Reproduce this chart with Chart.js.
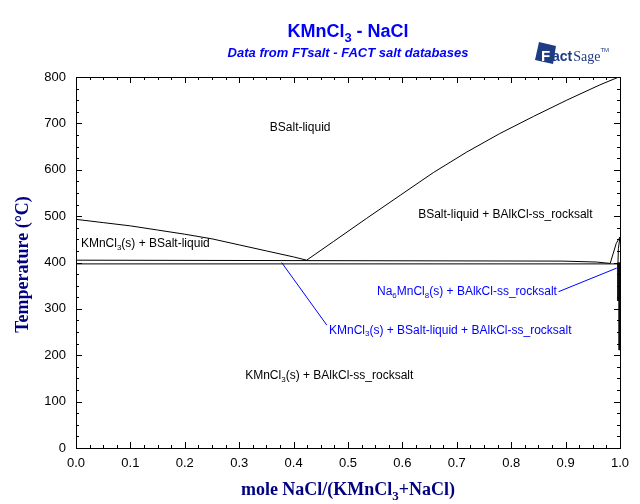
<!DOCTYPE html>
<html>
<head>
<meta charset="utf-8">
<script src="https://cdn.jsdelivr.net/npm/chart.js@4.4.1/dist/chart.umd.min.js"></script>
<style>
  html, body { margin: 0; padding: 0; background: #fff; }
</style>
</head>
<body>
<canvas id="myChart" width="640" height="504"></canvas>
<script>
// phase boundaries, x = mole NaCl/(KMnCl3+NaCl), T in °C
const liqLeftX = [0, 0.05, 0.1, 0.15, 0.2, 0.25, 0.3, 0.35, 0.4, 0.424]
const liqLeftT = [493, 486, 479, 470, 461, 451, 438, 425, 412, 405]

const liqRightX = [0.424, 0.473, 0.534, 0.596, 0.657, 0.718, 0.779, 0.841, 0.902, 0.963, 1.0]
const liqRightT = [405, 445, 495, 545, 594, 638, 678, 715, 750, 783, 801]

const eutecticX = [0, 0.895, 0.957, 0.982]
const eutecticT = [405, 403, 401, 398]

const lowerX = [0, 1]
const lowerT = [397, 397]

const solidusX = [0.982, 0.993, 1.0]
const solidusT = [398, 441, 455]

const solvusX = [1.0, 0.997, 0.9963]
const solvusT = [455, 430, 400]

const na6X = [0.9963, 0.9963]
const na6T = [400, 317]

const solvusLowX = [0.9985, 0.9985]
const solvusLowT = [400, 211]

// blue label pointers
const pointerAX = [0.378, 0.461]
const pointerAT = [400, 265]
const pointerBX = [0.887, 0.994]
const pointerBT = [337, 388]

// region labels ({n} = subscript)
const labelTexts = [
  'BSalt-liquid',
  'BSalt-liquid + BAlkCl-ss_rocksalt',
  'KMnCl{3}(s) + BSalt-liquid',
  'Na{6}MnCl{8}(s) + BAlkCl-ss_rocksalt',
  'KMnCl{3}(s) + BSalt-liquid + BAlkCl-ss_rocksalt',
  'KMnCl{3}(s) + BAlkCl-ss_rocksalt'
]
const labelX = [0.412, 0.629, 0.009, 0.884, 0.465, 0.311]
const labelT = [690, 504, 440, 336, 254, 155]
const labelAlign = ['center', 'left', 'left', 'right', 'left', 'left']
const labelColor = ['#000', '#000', '#000', '#00f', '#00f', '#000']

const toPts = (xs, ts) => xs.map((v, i) => ({ x: v, y: ts[i] }))

function line(xs, ts, color) {
  return {
    data: toPts(xs, ts),
    showLine: true,
    borderColor: color || '#000',
    borderWidth: 1,
    pointRadius: 0,
    tension: 0,
    fill: false
  }
}

// draw text with {sub} parts
function drawRich(ctx, text, x, y, align, size, weight, family, color) {
  let parts = []
  let re = /\{([^}]*)\}/g, last = 0, m
  while ((m = re.exec(text)) !== null) {
    if (m.index > last) parts.push([text.slice(last, m.index), false])
    parts.push([m[1], true])
    last = m.index + m[0].length
  }
  if (last < text.length) parts.push([text.slice(last), false])

  const base = `${weight} ${size}px ${family}`
  const sub = `${weight} ${Math.round(size * 0.7)}px ${family}`
  let total = 0
  parts.forEach(p => {
    ctx.font = p[1] ? sub : base
    total += ctx.measureText(p[0]).width
  })
  let cx = x
  if (align === 'center') cx = x - total / 2
  if (align === 'right') cx = x - total
  ctx.fillStyle = color
  ctx.textAlign = 'left'
  parts.forEach(p => {
    ctx.font = p[1] ? sub : base
    ctx.fillText(p[0], cx, p[1] ? y + size * 0.28 : y)
    cx += ctx.measureText(p[0]).width
  })
}

const phasePlugin = {
  id: 'phase',
  afterDraw(chart) {
    const { ctx, chartArea: a, scales: { x, y } } = chart
    ctx.save()
    ctx.strokeStyle = '#000'
    ctx.lineWidth = 1
    ctx.strokeRect(a.left + 0.5, a.top + 0.5, a.right - a.left, a.bottom - a.top)

    // inner ticks
    ctx.beginPath()
    for (let v = 0; v <= 800; v += 25) {
      let py = Math.round(y.getPixelForValue(v)) + 0.5
      let len = v % 100 === 0 ? 6 : 3
      ctx.moveTo(a.left, py); ctx.lineTo(a.left + len, py)
      ctx.moveTo(a.right, py); ctx.lineTo(a.right - len, py)
    }
    for (let i = 0; i <= 40; i++) {
      let px = Math.round(x.getPixelForValue(i * 0.025)) + 0.5
      let len = i % 4 === 0 ? 6 : 3
      ctx.moveTo(px, a.bottom); ctx.lineTo(px, a.bottom - len)
      ctx.moveTo(px, a.top); ctx.lineTo(px, a.top + len)
    }
    ctx.stroke()

    // region labels
    ctx.textBaseline = 'middle'
    labelTexts.forEach((t, i) => {
      drawRich(ctx, t, x.getPixelForValue(labelX[i]), y.getPixelForValue(labelT[i]),
        labelAlign[i], 12, 'normal', '"Liberation Sans", Arial, sans-serif', labelColor[i])
    })

    // titles
    ctx.textBaseline = 'alphabetic'
    const mid = (a.left + a.right) / 2
    drawRich(ctx, 'KMnCl{3} - NaCl', mid, 37, 'center', 18, 'bold', '"Liberation Sans", Arial, sans-serif', '#00f')
    drawRich(ctx, 'Data from FTsalt - FACT salt databases', mid, 57, 'center', 13, 'italic bold', '"Liberation Sans", Arial, sans-serif', '#00f')
    drawRich(ctx, 'mole NaCl/(KMnCl{3}+NaCl)', mid, 495, 'center', 18, 'bold', '"Liberation Serif", "Times New Roman", serif', '#000080')

    ctx.save()
    ctx.translate(23, (a.top + a.bottom) / 2 + 2)
    ctx.rotate(-Math.PI / 2)
    ctx.textBaseline = 'middle'
    drawRich(ctx, 'Temperature (°C)', 0, 0, 'center', 18, 'bold', '"Liberation Serif", "Times New Roman", serif', '#000080')
    ctx.restore()

    // FactSage logo
    ctx.fillStyle = '#1d3c84'
    ctx.beginPath()
    ctx.moveTo(539, 42); ctx.lineTo(556, 46); ctx.lineTo(553, 64); ctx.lineTo(535, 60)
    ctx.closePath(); ctx.fill()
    ctx.fillStyle = '#fff'
    ctx.font = 'bold 15px "Liberation Sans", Arial, sans-serif'
    ctx.textBaseline = 'alphabetic'
    ctx.fillText('F', 541, 61)
    ctx.fillStyle = '#1d3c84'
    ctx.font = 'bold 14px "Liberation Sans", Arial, sans-serif'
    ctx.fillText('act', 552, 61)
    let w = ctx.measureText('act').width
    ctx.font = '14px "Liberation Serif", serif'
    ctx.fillText('Sage', 552 + w + 1, 61)
    let w2 = ctx.measureText('Sage').width
    ctx.font = '6px "Liberation Sans", Arial, sans-serif'
    ctx.fillText('TM', 552 + w + w2 + 1, 52)
    ctx.restore()
  }
}

const tickFont = { family: '"Liberation Sans", Arial, sans-serif', size: 13 }

new Chart(document.getElementById('myChart'), {
  type: 'scatter',
  data: {
    datasets: [
      line(liqLeftX, liqLeftT),
      line(liqRightX, liqRightT),
      line(eutecticX, eutecticT),
      line(lowerX, lowerT),
      line(solidusX, solidusT),
      line(solvusX, solvusT),
      line(na6X, na6T),
      line(solvusLowX, solvusLowT),
      line(pointerAX, pointerAT, '#00f'),
      line(pointerBX, pointerBT, '#00f')
    ]
  },
  options: {
    responsive: false,
    animation: false,
    layout: { padding: { top: 77, right: 20, left: 0, bottom: 0 } },
    plugins: { legend: { display: false }, tooltip: { enabled: false } },
    scales: {
      x: {
        type: 'linear', min: 0, max: 1,
        grid: { display: false, drawTicks: false },
        border: { display: false },
        ticks: { stepSize: 0.1, padding: 8, color: '#000', font: tickFont, maxRotation: 0,
          callback: v => v.toFixed(1) },
        afterFit: s => { s.height = 56 }
      },
      y: {
        type: 'linear', min: 0, max: 800,
        grid: { display: false, drawTicks: false },
        border: { display: false },
        ticks: { stepSize: 100, padding: 10, color: '#000', font: tickFont },
        afterFit: s => { s.width = 76 }
      }
    }
  },
  plugins: [phasePlugin]
})
</script>
</body>
</html>
